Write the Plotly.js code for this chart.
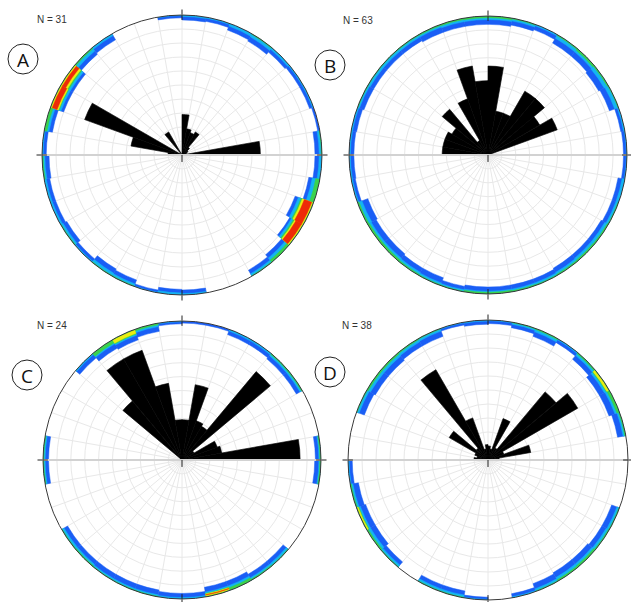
<!DOCTYPE html>
<html><head><meta charset="utf-8">
<script src="https://cdn.plot.ly/plotly-3.0.1.min.js"></script>
<style>html,body{margin:0;padding:0;background:#fff}#chart{width:631px;height:602px}</style>
</head><body><div id="chart"></div>
<script>
// ---------- data ----------
const panelLabels = ['A', 'B', 'C', 'D'];
const sampleCounts = [31, 63, 24, 38];

// rose diagram bins (10 deg, bin centres, compass azimuth)
const roseTheta = [275, 285, 295, 305, 315, 325, 335, 345, 355, 5, 15, 25, 35, 45, 55, 65, 75, 85];
const roseA = [0.10, 0.37, 0.74, 0, 0, 0.19, 0, 0, 0, 0.29, 0.19, 0.17, 0.19, 0.07, 0.05, 0.04, 0.03, 0.56];
const roseB = [0.33, 0.33, 0.33, 0.30, 0.43, 0.12, 0.43, 0.65, 0.535, 0.64, 0.32, 0.32, 0.53, 0.53, 0.43, 0.53, 0, 0];
const roseC = [0, 0, 0, 0, 0.555, 0.84, 0.84, 0.56, 0.29, 0.29, 0.55, 0.30, 0.28, 0.83, 0.10, 0.27, 0.29, 0.85];
const roseD = [0.10, 0.08, 0.10, 0.32, 0.11, 0.745, 0.32, 0.08, 0.11, 0.10, 0.08, 0.315, 0.10, 0.635, 0.74, 0.12, 0.31, 0.08];

// pole density contour bands along the rim (depth from rim, fraction of radius)
const bandTheta = [5, 15, 25, 35, 45, 55, 65, 75, 85, 95, 105, 115, 125, 135, 145, 155, 165, 175,
                   185, 195, 205, 215, 225, 235, 245, 255, 265, 275, 285, 295, 305, 315, 325, 335, 345, 355];
const blueA  = [0.035, 0.03, 0.05, 0.06, 0.04, 0.03, 0.03, 0.015, 0.05, 0.05, 0.08, 0.14, 0.11, 0.07, 0.05, 0, 0, 0.035,
                0.04, 0.02, 0.05, 0.06, 0.03, 0.05, 0.04, 0.04, 0.05, 0.03, 0.06, 0.10, 0.10, 0.06, 0.05, 0, 0, 0.02];
const cyanA  = [0.01, 0.008, 0.02, 0.025, 0.015, 0.008, 0.008, 0, 0.02, 0.02, 0.055, 0.115, 0.095, 0.04, 0.02, 0, 0, 0.01,
                0.015, 0.004, 0.02, 0.025, 0.008, 0.02, 0.015, 0.015, 0.02, 0.008, 0.035, 0.08, 0.08, 0.03, 0.015, 0, 0, 0.004];
const greenA = [0, 0, 0, 0.005, 0, 0, 0, 0, 0.005, 0, 0.03, 0.095, 0.08, 0.02, 0.005, 0, 0, 0,
                0, 0, 0.005, 0.005, 0, 0.005, 0, 0, 0.008, 0, 0.02, 0.065, 0.065, 0.01, 0, 0, 0, 0];
const blueB  = [0.06, 0.05, 0.04, 0.07, 0.07, 0.08, 0.07, 0.03, 0.025, 0.025, 0.05, 0.05, 0.06, 0.06, 0.06, 0.05, 0.05, 0.05,
                0.05, 0.04, 0.06, 0.06, 0.07, 0.07, 0.08, 0.03, 0.035, 0.035, 0.04, 0.05, 0.05, 0.05, 0.05, 0.06, 0.06, 0.06];
const cyanB  = [0.025, 0.02, 0.01, 0.03, 0.03, 0.035, 0.03, 0.01, 0.005, 0.005, 0.02, 0.02, 0.03, 0.03, 0.025, 0.02, 0.02, 0.02,
                0.02, 0.015, 0.02, 0.025, 0.03, 0.03, 0.035, 0.01, 0.01, 0.01, 0.01, 0.015, 0.02, 0.02, 0.02, 0.02, 0.025, 0.025];
const greenB = [0.012, 0.006, 0, 0.008, 0.015, 0.01, 0.005, 0, 0, 0, 0, 0.005, 0.01, 0.012, 0.01, 0.006, 0.008, 0.012,
                0.012, 0.004, 0.006, 0.01, 0.015, 0.015, 0.012, 0, 0, 0, 0, 0.004, 0.004, 0.004, 0.006, 0.008, 0.01, 0.012];
const blueC  = [0.015, 0.015, 0.04, 0.04, 0.05, 0.05, 0, 0, 0.04, 0.045, 0, 0, 0, 0.05, 0.05, 0.07, 0.07, 0.04,
                0.04, 0.05, 0.05, 0.05, 0.05, 0.05, 0, 0, 0.04, 0.04, 0, 0, 0, 0.04, 0.07, 0.08, 0.06, 0.02];
const cyanC  = [0, 0, 0.012, 0.012, 0.02, 0.02, 0, 0, 0.015, 0.015, 0, 0, 0, 0.02, 0.02, 0.035, 0.035, 0.01,
                0.01, 0.015, 0.015, 0.015, 0.02, 0.02, 0, 0, 0.015, 0.015, 0, 0, 0, 0.01, 0.035, 0.045, 0.025, 0.005];
const greenC = [0, 0, 0, 0, 0.008, 0.008, 0, 0, 0.008, 0.008, 0, 0, 0, 0.005, 0.008, 0.02, 0.025, 0,
                0, 0.004, 0.004, 0.004, 0.008, 0.005, 0, 0, 0.006, 0.006, 0, 0, 0, 0, 0.025, 0.035, 0.012, 0];
const blueD  = [0.025, 0.04, 0.06, 0.03, 0.06, 0.08, 0.08, 0.06, 0, 0, 0, 0.06, 0.06, 0.07, 0.07, 0.06, 0.03, 0,
                0.02, 0.05, 0.05, 0, 0.05, 0.07, 0.07, 0.06, 0.03, 0, 0, 0.06, 0.07, 0.07, 0.06, 0.06, 0.02, 0.03];
const cyanD  = [0.005, 0.015, 0.025, 0.008, 0.025, 0.04, 0.035, 0.02, 0, 0, 0, 0.02, 0.025, 0.03, 0.03, 0.02, 0.008, 0,
                0.005, 0.02, 0.02, 0, 0.02, 0.03, 0.03, 0.02, 0.008, 0, 0, 0.02, 0.03, 0.03, 0.025, 0.02, 0.005, 0.008];
const greenD = [0, 0.004, 0.008, 0, 0.01, 0.025, 0.02, 0.008, 0, 0, 0, 0.005, 0.008, 0.015, 0.012, 0.005, 0, 0,
                0, 0.005, 0.005, 0, 0.005, 0.012, 0.018, 0.008, 0, 0, 0, 0.005, 0.012, 0.012, 0.008, 0.005, 0, 0];
// hot spots (yellow / red)
const hotThetaA = [115, 125, 295, 305];
const yellowA = [0.085, 0.07, 0.06, 0.055];
const redA = [0.07, 0.06, 0.05, 0.04];
const hotThetaB = [45];
const yellowB = [0];
const redB = [0];
const hotThetaC = [165, 335];
const yellowC = [0.022, 0.03];
const redC = [0.016, 0];
const hotThetaD = [55, 245];
const yellowD = [0.02, 0.013];
const redD = [0, 0];

// ---------- layout geometry (pixels) ----------
const W = 631, H = 602;
const panels = [
  {cx: 182, cy: 155, R: 140, lx: 23, ly: 59, nx: 52, ny: 19},
  {cx: 488, cy: 155, R: 139, lx: 330, ly: 65, nx: 358, ny: 21},
  {cx: 182, cy: 460, R: 139, lx: 27, ly: 375, nx: 52, ny: 325},
  {cx: 488, cy: 460, R: 140, lx: 330, ly: 372, nx: 357, ny: 325}
];
const roses = [roseA, roseB, roseC, roseD];
const blues = [blueA, blueB, blueC, blueD];
const cyans = [cyanA, cyanB, cyanC, cyanD];
const greens = [greenA, greenB, greenC, greenD];
const hotThetas = [hotThetaA, hotThetaB, hotThetaC, hotThetaD];
const yellows = [yellowA, yellowB, yellowC, yellowD];
const reds = [redA, redB, redC, redD];

const COL = {blue: '#1a5ef5', cyan: '#14b4f2', green: '#3bd24c', yellow: '#ecec10', red: '#ee2a08'};
const GRID = '#e8e8e8';

const traces = [];
const layout = {
  width: W, height: H, margin: {l: 0, r: 0, t: 0, b: 0},
  paper_bgcolor: '#fff', showlegend: false,
  annotations: [], shapes: []
};

function band(sub, theta, w, color, gap) {
  traces.push({
    type: 'barpolar', subplot: sub, theta: theta,
    r: w.map(v => v > gap ? v - gap : 0), base: w.map(v => 1 - v),
    width: 10, marker: {color: color, line: {color: color, width: 0.5}},
    hoverinfo: 'skip'
  });
}

panels.forEach((p, i) => {
  const sub = i === 0 ? 'polar' : 'polar' + (i + 1);
  const ov = 'polar' + (i + 5);
  const dom = {
    x: [(p.cx - p.R) / W, (p.cx + p.R) / W],
    y: [1 - (p.cy + p.R) / H, 1 - (p.cy - p.R) / H]
  };
  layout[sub] = {
    domain: dom, bgcolor: '#fff',
    radialaxis: {range: [0, 1], tick0: 0, dtick: 0.1, showticklabels: false, ticks: '',
                 showline: false, gridcolor: GRID, gridwidth: 1},
    angularaxis: {rotation: 90, direction: 'clockwise', dtick: 10, showticklabels: false, ticks: '',
                  showline: true, linecolor: '#3a3a3a', linewidth: 1, gridcolor: GRID, gridwidth: 1}
  };
  layout[ov] = {
    domain: dom, bgcolor: 'rgba(0,0,0,0)',
    radialaxis: {visible: false, range: [0, 1]},
    angularaxis: {rotation: 90, direction: 'clockwise', tickmode: 'array', tickvals: [0, 90, 180, 270],
                  ticks: 'outside', ticklen: 5, tickwidth: 1, tickcolor: '#222',
                  showticklabels: false, showgrid: false, showline: false}
  };

  band(sub, bandTheta, blues[i], COL.blue, 0);
  band(sub, bandTheta, cyans[i], COL.cyan, 0);
  band(sub, bandTheta, greens[i], COL.green, 0);
  band(sub, hotThetas[i], yellows[i], COL.yellow, 0.006);
  band(sub, hotThetas[i], reds[i], COL.red, 0.014);

  traces.push({
    type: 'barpolar', subplot: sub, theta: roseTheta, r: roses[i], width: 10,
    marker: {color: '#000', line: {color: '#000', width: 0.6}}, hoverinfo: 'skip'
  });
  // E-W diameter
  traces.push({type: 'scatterpolar', subplot: sub, mode: 'lines', r: [1, 0, 1], theta: [270, 270, 90],
               line: {color: '#d2d2d2', width: 2}, hoverinfo: 'skip'});
  // inner part of cardinal ticks + centre tick
  traces.push({type: 'scatterpolar', subplot: sub, mode: 'lines',
               r: [0.965, 1, null, 0.965, 1, null, 0.965, 1, null, 0.965, 1, null, 0, 0.05],
               theta: [0, 0, null, 90, 90, null, 180, 180, null, 270, 270, null, 180, 180],
               line: {color: '#222', width: 1}, hoverinfo: 'skip'});
  traces.push({type: 'scatterpolar', subplot: ov, mode: 'markers', r: [0], theta: [0],
               marker: {size: 1, opacity: 0}, hoverinfo: 'skip'});

  layout.annotations.push({
    xref: 'paper', yref: 'paper', x: p.nx / W, y: 1 - p.ny / H, xanchor: 'center', yanchor: 'middle',
    text: 'N = ' + sampleCounts[i], showarrow: false,
    font: {family: 'Liberation Sans, Arial, sans-serif', size: 10, color: '#333'}
  });
  layout.annotations.push({
    xref: 'paper', yref: 'paper', x: p.lx / W, y: 1 - (p.ly + 1) / H, xanchor: 'center', yanchor: 'middle',
    text: panelLabels[i], showarrow: false,
    font: {family: 'Open Sans, sans-serif', size: 19, color: '#111'}
  });
  layout.shapes.push({
    type: 'circle', xref: 'paper', yref: 'paper',
    x0: (p.lx - 15) / W, x1: (p.lx + 15) / W, y0: 1 - (p.ly + 15) / H, y1: 1 - (p.ly - 15) / H,
    line: {color: '#222', width: 1}
  });
});

Plotly.newPlot('chart', traces, layout, {staticPlot: true, displayModeBar: false});
</script>
</body></html>
